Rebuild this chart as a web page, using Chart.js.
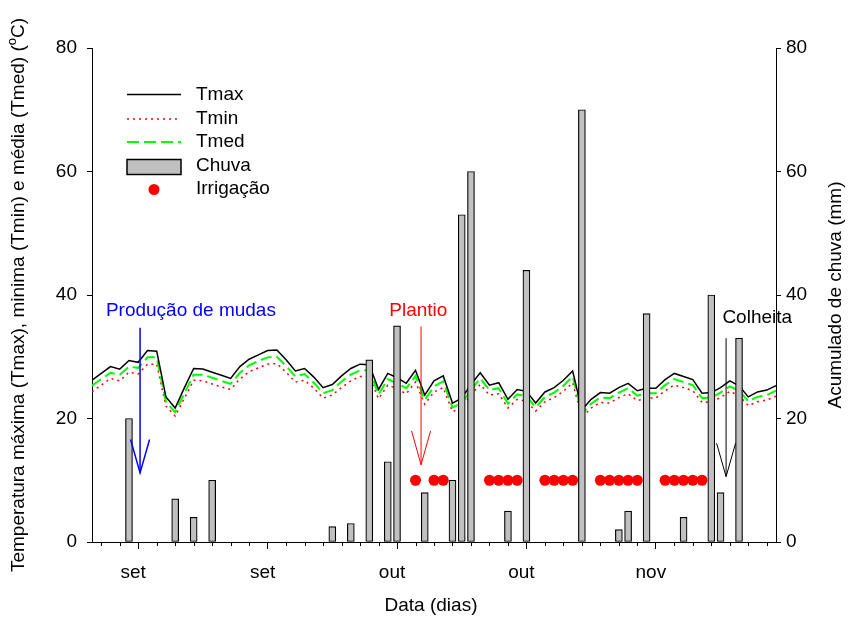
<!DOCTYPE html>
<html><head><meta charset="utf-8">
<script src="https://cdn.jsdelivr.net/npm/chart.js@4/dist/chart.umd.min.js"></script>
<style>html,body{margin:0;padding:0;background:#fff}#c{display:block}</style>
</head><body>
<canvas id="c" width="848" height="618"></canvas>
<script>
// ---- data ----
const days = [0,1,2,3,4,5,6,7,8,9,10,11,12,13,14,15,16,17,18,19,20,21,22,23,24,25,26,27,28,29,30,31,32,33,34,35,36,37,38,39,40,41,42,43,44,45,46,47,48,49,50,51,52,53,54,55,56,57,58,59,60,61,62,63,64,65,66,67,68,69,70,71,72,73,74];
const tmax = [26.2,27.3,28.4,28.0,29.4,29.1,31.0,30.9,23.5,21.7,25.0,28.1,28.0,27.5,27.0,26.5,28.4,29.6,30.3,31.0,31.1,29.5,27.7,28.1,26.7,25.0,25.5,26.9,28.1,28.8,28.7,24.7,27.3,26.6,25.7,27.8,23.8,26.1,26.9,22.5,23.3,25.5,27.4,25.4,25.8,23.1,24.7,24.4,22.5,24.3,25.0,26.2,27.7,21.4,23.1,24.2,24.1,25.0,25.7,24.5,24.9,24.9,26.3,27.3,26.8,26.3,24.1,24.2,25.0,26.1,25.3,23.5,24.3,24.6,25.3];
const tmin = [24.3,25.4,26.5,26.1,27.5,27.2,28.8,28.8,22.0,20.4,23.3,26.2,26.1,25.6,25.1,24.7,26.4,27.6,28.2,28.8,28.9,27.5,25.9,26.2,24.9,23.3,23.8,25.0,26.1,26.8,26.8,23.2,25.4,24.8,24.0,25.9,22.3,24.3,25.0,21.1,21.8,23.8,25.5,23.8,24.0,21.7,23.1,22.8,21.2,22.7,23.4,24.4,25.8,20.2,21.7,22.6,22.5,23.4,24.0,22.9,23.3,23.3,24.5,25.4,25.0,24.5,22.6,22.7,23.4,24.4,23.7,22.1,22.7,23.0,23.6];
const tmed = [25.3,26.4,27.4,27.1,28.4,28.2,29.9,29.9,22.7,21.0,24.1,27.1,27.1,26.6,26.1,25.6,27.4,28.6,29.3,29.9,30.0,28.5,26.8,27.2,25.8,24.1,24.6,26.0,27.1,27.8,27.8,23.9,26.4,25.7,24.9,26.9,23.0,25.2,26.0,21.8,22.5,24.6,26.5,24.6,24.9,22.4,23.9,23.6,21.8,23.5,24.2,25.3,26.8,20.8,22.4,23.4,23.3,24.2,24.9,23.7,24.1,24.1,25.4,26.4,25.9,25.4,23.3,23.4,24.2,25.2,24.5,22.8,23.5,23.8,24.5];
const rainDays = [4,9,11,13,26,28,30,32,33,36,39,40,41,45,47,53,57,58,60,64,67,68,70];
const rainMm = [20,7,4,10,2.5,3,29.5,13,35,8,10,53,60,5,44,70,2,5,37,4,40,8,33];
const irrigDays = [35,37,38,43,44,45,46,49,50,51,52,55,56,57,58,59,62,63,64,65,66];
const irrigLevel = [10,10,10,10,10,10,10,10,10,10,10,10,10,10,10,10,10,10,10,10,10];
const majorTickDays = [5,19,33,47,61];
const majorTickLabels = ['set','set','out','out','nov'];
const minorTickDays = [1,3,7,9,11,13,15,17,21,23,25,27,29,31,35,37,39,41,43,45,49,51,53,55,57,59,63,65,67,69,71,73];
const yTickValues = [0,20,40,60,80];

// ---- styling ----
const FONT = '"Liberation Sans", Arial, sans-serif';
const FS = 19;
const annotations = [
  {text:'Produção de mudas', color:'#0000ff', tx:10.7, ty:37.4, align:'center', ax:5.2, yTop:34.7, yTip:11.2, yWing:16.6, lw:1.5},
  {text:'Plantio', color:'#ff0000', tx:35.3, ty:37.4, align:'center', ax:35.6, yTop:34.9, yTip:12.5, yWing:18.0, lw:1},
  {text:'Colheita', color:'#000000', tx:68.2, ty:36.3, align:'left', ax:68.6, yTop:33.0, yTip:10.6, yWing:16.0, lw:1}
];

const pts = (xs, ys) => xs.map((x,i)=>({x:x, y:ys[i]}));

const decor = {
  id:'decor',
  afterDraw(chart){
    const c = chart.ctx, xs = chart.scales.x, ys = chart.scales.y, ca = chart.chartArea;
    c.save();
    // minor x ticks
    c.strokeStyle = '#000'; c.lineWidth = 1;
    minorTickDays.forEach(d=>{
      const px = Math.round(xs.getPixelForValue(d)) + 0.5;
      c.beginPath(); c.moveTo(px, ca.bottom); c.lineTo(px, ca.bottom + 4); c.stroke();
    });
    // annotations
    annotations.forEach(a=>{
      const px = xs.getPixelForValue(a.ax);
      const yT = ys.getPixelForValue(a.yTop), yP = ys.getPixelForValue(a.yTip), yW = ys.getPixelForValue(a.yWing);
      c.strokeStyle = a.color; c.lineWidth = a.lw;
      c.beginPath(); c.moveTo(px, yT); c.lineTo(px, yP); c.stroke();
      c.beginPath(); c.moveTo(px - 9.5, yW); c.lineTo(px, yP); c.lineTo(px + 9.5, yW); c.stroke();
      c.fillStyle = a.color; c.font = FS + 'px ' + FONT; c.textAlign = a.align; c.textBaseline = 'middle';
      c.fillText(a.text, xs.getPixelForValue(a.tx), ys.getPixelForValue(a.ty));
    });
    // legend
    const lx0 = 127, lx1 = 181, tx = 196;
    c.font = FS + 'px ' + FONT; c.textAlign = 'left'; c.textBaseline = 'middle'; c.fillStyle = '#000';
    c.setLineDash([]); c.strokeStyle = '#000'; c.lineWidth = 1.5;
    c.beginPath(); c.moveTo(lx0, 94.5); c.lineTo(lx1, 94.5); c.stroke();
    c.fillText('Tmax', tx, 95);
    c.setLineDash([2,4]); c.strokeStyle = '#ff0000'; c.lineWidth = 1.5;
    c.beginPath(); c.moveTo(lx0, 119); c.lineTo(lx1, 119); c.stroke();
    c.fillText('Tmin', tx, 119);
    c.setLineDash([12,5]); c.strokeStyle = '#00ff00'; c.lineWidth = 2;
    c.beginPath(); c.moveTo(lx0, 142); c.lineTo(lx1, 142); c.stroke();
    c.fillText('Tmed', tx, 142);
    c.setLineDash([]);
    c.fillStyle = '#c0c0c0'; c.fillRect(lx0, 159.5, lx1 - lx0, 15);
    c.strokeStyle = '#000'; c.lineWidth = 1.5; c.strokeRect(lx0, 159.5, lx1 - lx0, 15);
    c.fillStyle = '#000'; c.fillText('Chuva', tx, 166);
    c.fillStyle = '#ff0000'; c.beginPath(); c.arc(154, 189.5, 5.5, 0, Math.PI*2); c.fill();
    c.fillStyle = '#000'; c.fillText('Irrigação', tx, 189);
    // axis titles
    c.fillStyle = '#000'; c.textBaseline = 'middle';
    c.textAlign = 'center';
    c.fillText('Data (dias)', 431, 606);
    // left title with superscript
    const main = 'Temperatura máxima (Tmax), minima (Tmin) e média (Tmed) (';
    const sup = 'o', tail = 'C)';
    c.font = FS + 'px ' + FONT; const w1 = c.measureText(main).width, w3 = c.measureText(tail).width;
    c.font = '13px ' + FONT; const w2 = c.measureText(sup).width;
    const total = w1 + w2 + w3;
    c.save(); c.translate(19, 295); c.rotate(-Math.PI/2); c.textAlign = 'left';
    let x0 = -total/2;
    c.font = FS + 'px ' + FONT; c.fillText(main, x0, 0);
    c.font = '13px ' + FONT; c.fillText(sup, x0 + w1, -7);
    c.font = FS + 'px ' + FONT; c.fillText(tail, x0 + w1 + w2, 0);
    c.restore();
    c.save(); c.translate(836, 295); c.rotate(-Math.PI/2); c.textAlign = 'center';
    c.font = FS + 'px ' + FONT; c.fillText('Acumulado de chuva (mm)', 0, 0);
    c.restore();
    c.restore();
  }
};

new Chart(document.getElementById('c').getContext('2d'), {
  type: 'bar',
  data: {
    datasets: [
      {type:'line', label:'Irrigação', data: pts(irrigDays, irrigLevel), yAxisID:'y', showLine:false,
       pointRadius:5.5, pointBackgroundColor:'#ff0000', pointBorderWidth:0, pointBorderColor:'#ff0000', order:0},
      {type:'bar', label:'Chuva', data: pts(rainDays, rainMm), yAxisID:'y2', backgroundColor:'#c0c0c0',
       borderColor:'#000', borderWidth:1.2, borderSkipped:false, barThickness:7, order:1},
      {type:'line', label:'Tmin', data: pts(days, tmin), yAxisID:'y', borderColor:'#ff0000', borderWidth:1.5,
       borderDash:[2,4], pointRadius:0, tension:0, fill:false, order:4},
      {type:'line', label:'Tmed', data: pts(days, tmed), yAxisID:'y', borderColor:'#00ff00', borderWidth:2,
       borderDash:[11,5], pointRadius:0, tension:0, fill:false, order:3},
      {type:'line', label:'Tmax', data: pts(days, tmax), yAxisID:'y', borderColor:'#000000', borderWidth:1.5,
       pointRadius:0, tension:0, fill:false, order:2}
    ]
  },
  options: {
    responsive:false, animation:false, devicePixelRatio:1,
    layout:{padding:{top:48,left:0,right:0,bottom:0}},
    plugins:{legend:{display:false}, tooltip:{enabled:false}},
    scales:{
      x:{type:'linear', position:'bottom', min:0, max:74, offset:false,
         afterBuildTicks: s => { s.ticks = majorTickDays.map(v=>({value:v})); },
         afterFit: s => { s.height = 76; },
         grid:{drawOnChartArea:false, drawTicks:true, tickLength:7, color:'#000', tickColor:'#000', offset:false},
         border:{display:true, color:'#000', width:1},
         ticks:{callback:(v,i)=>majorTickLabels[i], color:'#000', font:{family:FONT, size:FS}, padding:12,
                maxRotation:0, autoSkip:false, labelOffset:-5}},
      y:{type:'linear', position:'left', min:0, max:80,
         afterBuildTicks: s => { s.ticks = yTickValues.map(v=>({value:v})); },
         afterFit: s => { s.width = 92; },
         grid:{drawOnChartArea:false, tickLength:5, color:'#000', tickColor:'#000'},
         border:{display:true, color:'#000', width:1},
         ticks:{color:'#000', font:{family:FONT, size:FS}, padding:10}},
      y2:{type:'linear', position:'right', min:0, max:80,
         afterBuildTicks: s => { s.ticks = yTickValues.map(v=>({value:v})); },
         afterFit: s => { s.width = 72; },
         grid:{drawOnChartArea:false, tickLength:5, color:'#000', tickColor:'#000'},
         border:{display:true, color:'#000', width:1},
         ticks:{color:'#000', font:{family:FONT, size:FS}, padding:5}}
    }
  },
  plugins:[decor]
});
</script>
</body></html>
